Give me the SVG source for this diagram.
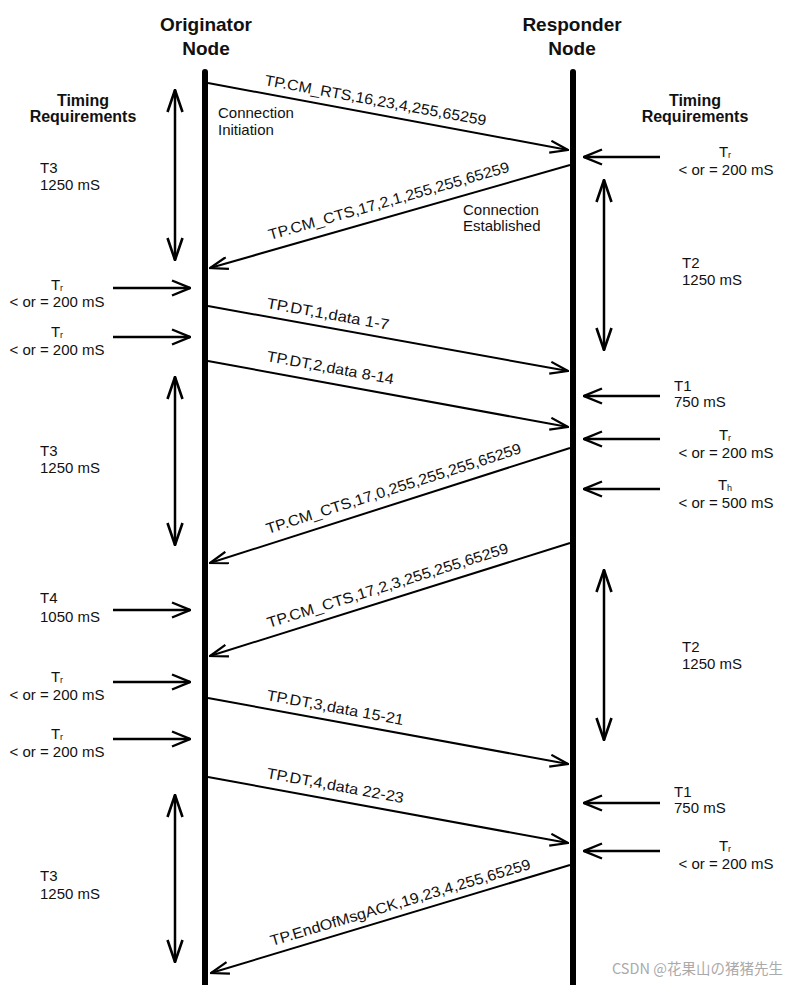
<svg xmlns="http://www.w3.org/2000/svg" width="805" height="985" viewBox="0 0 805 985">
<style>
text{font-family:"Liberation Sans",Arial,sans-serif;fill:#111}
.title{font-size:19px;font-weight:bold;text-anchor:middle}
.hdr{font-size:16px;font-weight:bold;text-anchor:middle}
.lbl{font-size:15px}
.c{text-anchor:middle}
.sub{font-size:9px}
.msg{font-size:15px}
.life{stroke:#000;stroke-width:6;stroke-linecap:round;fill:none}
.m{stroke:#000;stroke-width:2;fill:none;marker-end:url(#ah)}
.h{stroke:#000;stroke-width:2.5;fill:none;marker-end:url(#ah2)}
.v{stroke:#000;stroke-width:2.5;fill:none;marker-start:url(#ah3);marker-end:url(#ah3)}
.wm{font-family:"Noto Sans CJK SC","Liberation Sans",sans-serif;font-size:14.5px;fill:#aaa}
</style>
<defs>
<marker id="ah" viewBox="0 0 20 14" refX="19" refY="7" markerWidth="20" markerHeight="14" markerUnits="userSpaceOnUse" orient="auto"><path d="M1,1 L19,7 L1,13" fill="none" stroke="#000" stroke-width="2.2"/></marker>
<marker id="ah2" viewBox="0 0 20 18" refX="19" refY="9" markerWidth="20" markerHeight="18" markerUnits="userSpaceOnUse" orient="auto"><path d="M1,1.5 L19,9 L1,16.5" fill="none" stroke="#000" stroke-width="2.4"/></marker>
<marker id="ah3" viewBox="0 0 24 18" refX="23" refY="9" markerWidth="24" markerHeight="18" markerUnits="userSpaceOnUse" orient="auto-start-reverse"><path d="M1,1.5 L23,9 L1,16.5" fill="none" stroke="#000" stroke-width="2.6"/></marker>
</defs>

<g id="originator">
<text class="title" x="206" y="31">Originator</text>
<text class="title" x="206" y="55">Node</text>
<line class="life" x1="205" y1="72" x2="205" y2="990"/>
</g>
<g id="responder">
<text class="title" x="572" y="31">Responder</text>
<text class="title" x="572" y="55">Node</text>
<line class="life" x1="573" y1="72" x2="573" y2="990"/>
</g>

<g id="left-timing">
<text class="hdr" x="83" y="106">Timing</text>
<text class="hdr" x="83" y="122">Requirements</text>
<text class="lbl" x="40" y="173">T3</text>
<text class="lbl" x="40" y="190">1250 mS</text>
<text class="lbl c" x="57" y="290">T<tspan class="sub" dy="1">r</tspan></text>
<text class="lbl c" x="57" y="307">&lt; or = 200 mS</text>
<text class="lbl c" x="57" y="337">T<tspan class="sub" dy="1">r</tspan></text>
<text class="lbl c" x="57" y="355">&lt; or = 200 mS</text>
<text class="lbl" x="40" y="456">T3</text>
<text class="lbl" x="40" y="473">1250 mS</text>
<text class="lbl" x="40" y="603">T4</text>
<text class="lbl" x="40" y="622">1050 mS</text>
<text class="lbl c" x="57" y="682">T<tspan class="sub" dy="1">r</tspan></text>
<text class="lbl c" x="57" y="700">&lt; or = 200 mS</text>
<text class="lbl c" x="57" y="739">T<tspan class="sub" dy="1">r</tspan></text>
<text class="lbl c" x="57" y="757">&lt; or = 200 mS</text>
<text class="lbl" x="40" y="881">T3</text>
<text class="lbl" x="40" y="899">1250 mS</text>
</g>

<g id="right-timing">
<text class="hdr" x="695" y="106">Timing</text>
<text class="hdr" x="695" y="122">Requirements</text>
<text class="lbl c" x="725" y="157">T<tspan class="sub" dy="1">r</tspan></text>
<text class="lbl c" x="726" y="175">&lt; or = 200 mS</text>
<text class="lbl" x="682" y="268">T2</text>
<text class="lbl" x="682" y="285">1250 mS</text>
<text class="lbl" x="674" y="391">T1</text>
<text class="lbl" x="674" y="407">750 mS</text>
<text class="lbl c" x="725" y="440">T<tspan class="sub" dy="1">r</tspan></text>
<text class="lbl c" x="726" y="458">&lt; or = 200 mS</text>
<text class="lbl c" x="725" y="490">T<tspan class="sub" dy="1">h</tspan></text>
<text class="lbl c" x="726" y="508">&lt; or = 500 mS</text>
<text class="lbl" x="682" y="652">T2</text>
<text class="lbl" x="682" y="669">1250 mS</text>
<text class="lbl" x="674" y="797">T1</text>
<text class="lbl" x="674" y="813">750 mS</text>
<text class="lbl c" x="725" y="851">T<tspan class="sub" dy="1">r</tspan></text>
<text class="lbl c" x="726" y="869">&lt; or = 200 mS</text>
</g>

<g id="notes">
<text class="lbl" x="218" y="118">Connection</text>
<text class="lbl" x="218" y="135">Initiation</text>
<text class="lbl" x="463" y="215">Connection</text>
<text class="lbl" x="463" y="231">Established</text>
</g>

<g id="connectors">
<line class="m" x1="208" y1="83" x2="568" y2="150"/>
<line class="m" x1="570" y1="165" x2="210" y2="268"/>
<line class="m" x1="208" y1="306" x2="568" y2="371"/>
<line class="m" x1="208" y1="361" x2="568" y2="427"/>
<line class="m" x1="570" y1="448" x2="210" y2="563"/>
<line class="m" x1="570" y1="543" x2="210" y2="656"/>
<line class="m" x1="208" y1="698" x2="568" y2="764"/>
<line class="m" x1="208" y1="777" x2="568" y2="843"/>
<line class="m" x1="570" y1="865" x2="211" y2="973"/>

<line class="h" x1="660" y1="157" x2="584" y2="157"/>
<line class="h" x1="660" y1="396" x2="584" y2="396"/>
<line class="h" x1="660" y1="439" x2="584" y2="439"/>
<line class="h" x1="660" y1="489" x2="584" y2="489"/>
<line class="h" x1="660" y1="803" x2="584" y2="803"/>
<line class="h" x1="660" y1="851" x2="584" y2="851"/>

<line class="h" x1="113" y1="288" x2="190" y2="288"/>
<line class="h" x1="113" y1="337" x2="190" y2="337"/>
<line class="h" x1="113" y1="610" x2="190" y2="610"/>
<line class="h" x1="113" y1="682" x2="190" y2="682"/>
<line class="h" x1="113" y1="739" x2="190" y2="739"/>

<line class="v" x1="175" y1="90" x2="175" y2="260"/>
<line class="v" x1="175" y1="377" x2="175" y2="545"/>
<line class="v" x1="175" y1="795" x2="175" y2="962"/>
<line class="v" x1="604" y1="180" x2="604" y2="350"/>
<line class="v" x1="604" y1="570" x2="604" y2="740"/>

<text class="msg" x="264" y="85" transform="rotate(10.4 264 85)" textLength="225" lengthAdjust="spacingAndGlyphs">TP.CM_RTS,16,23,4,255,65259</text>
<text class="msg" x="270" y="240" transform="rotate(-15.9 270 240)" textLength="250" lengthAdjust="spacingAndGlyphs">TP.CM_CTS,17,2,1,255,255,65259</text>
<text class="msg" x="266" y="308" transform="rotate(10.2 266 308)" textLength="124" lengthAdjust="spacingAndGlyphs">TP.DT,1,data 1-7</text>
<text class="msg" x="266" y="361" transform="rotate(10.4 266 361)" textLength="129" lengthAdjust="spacingAndGlyphs">TP.DT,2,data 8-14</text>
<text class="msg" x="268" y="534" transform="rotate(-17.7 268 534)" textLength="267" lengthAdjust="spacingAndGlyphs">TP.CM_CTS,17,0,255,255,255,65259</text>
<text class="msg" x="269" y="628" transform="rotate(-17.4 269 628)" textLength="252" lengthAdjust="spacingAndGlyphs">TP.CM_CTS,17,2,3,255,255,65259</text>
<text class="msg" x="266" y="700" transform="rotate(10.4 266 700)" textLength="139" lengthAdjust="spacingAndGlyphs">TP.DT,3,data 15-21</text>
<text class="msg" x="266" y="778" transform="rotate(10.4 266 778)" textLength="139" lengthAdjust="spacingAndGlyphs">TP.DT,4,data 22-23</text>
<text class="msg" x="272" y="946" transform="rotate(-16.6 272 946)" textLength="271" lengthAdjust="spacingAndGlyphs">TP.EndOfMsgACK,19,23,4,255,65259</text>
</g>

<text class="wm" x="612" y="974">CSDN @花果山の猪猪先生</text>
</svg>
